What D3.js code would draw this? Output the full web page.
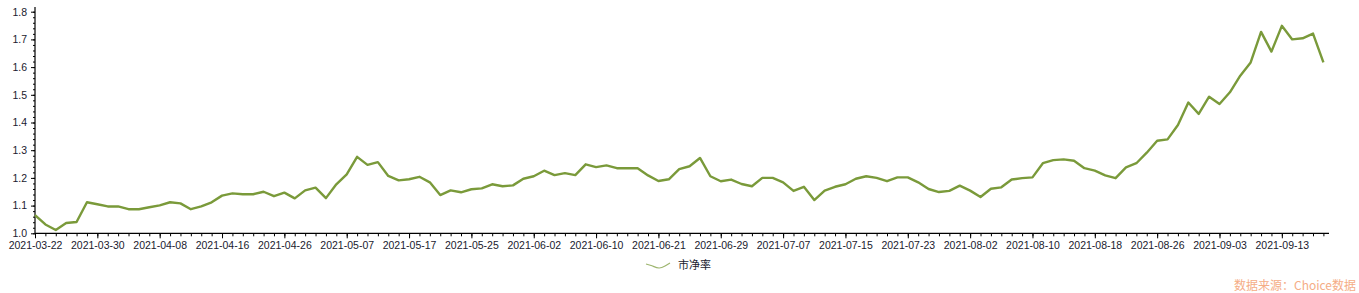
<!DOCTYPE html>
<html>
<head>
<meta charset="utf-8">
<script src="https://cdn.jsdelivr.net/npm/d3@7"></script>
<style>
  html, body { margin: 0; padding: 0; background: #fff; }
  svg { display: block; font-family: Arial, "Liberation Sans", sans-serif; }
</style>
</head>
<body>
<svg id="chart" width="1359" height="293"></svg>
<script>
// ---- data ----
const dates = [
  "2021-03-22","2021-03-23","2021-03-24","2021-03-25","2021-03-26","2021-03-29","2021-03-30","2021-03-31",
  "2021-04-01","2021-04-02","2021-04-06","2021-04-07","2021-04-08","2021-04-09","2021-04-12","2021-04-13",
  "2021-04-14","2021-04-15","2021-04-16","2021-04-19","2021-04-20","2021-04-21","2021-04-22","2021-04-23",
  "2021-04-26","2021-04-27","2021-04-28","2021-04-29","2021-04-30","2021-05-06","2021-05-07","2021-05-10",
  "2021-05-11","2021-05-12","2021-05-13","2021-05-14","2021-05-17","2021-05-18","2021-05-19","2021-05-20",
  "2021-05-21","2021-05-24","2021-05-25","2021-05-26","2021-05-27","2021-05-28","2021-05-31","2021-06-01",
  "2021-06-02","2021-06-03","2021-06-04","2021-06-07","2021-06-08","2021-06-09","2021-06-10","2021-06-11",
  "2021-06-15","2021-06-16","2021-06-17","2021-06-18","2021-06-21","2021-06-22","2021-06-23","2021-06-24",
  "2021-06-25","2021-06-28","2021-06-29","2021-06-30","2021-07-01","2021-07-02","2021-07-05","2021-07-06",
  "2021-07-07","2021-07-08","2021-07-09","2021-07-12","2021-07-13","2021-07-14","2021-07-15","2021-07-16",
  "2021-07-19","2021-07-20","2021-07-21","2021-07-22","2021-07-23","2021-07-26","2021-07-27","2021-07-28",
  "2021-07-29","2021-07-30","2021-08-02","2021-08-03","2021-08-04","2021-08-05","2021-08-06","2021-08-09",
  "2021-08-10","2021-08-11","2021-08-12","2021-08-13","2021-08-16","2021-08-17","2021-08-18","2021-08-19",
  "2021-08-20","2021-08-23","2021-08-24","2021-08-25","2021-08-26","2021-08-27","2021-08-30","2021-08-31",
  "2021-09-01","2021-09-02","2021-09-03","2021-09-06","2021-09-07","2021-09-08","2021-09-09","2021-09-10",
  "2021-09-13","2021-09-14","2021-09-15","2021-09-16","2021-09-17"
];

const pbValues = [
  1.066,1.032,1.012,1.037,1.041,1.112,1.105,1.097,
  1.097,1.087,1.087,1.094,1.101,1.112,1.108,1.087,
  1.097,1.112,1.136,1.144,1.141,1.141,1.150,1.134,
  1.147,1.126,1.155,1.165,1.127,1.177,1.213,1.276,
  1.247,1.257,1.207,1.191,1.195,1.204,1.184,1.138,
  1.155,1.148,1.159,1.162,1.177,1.170,1.173,1.197,
  1.206,1.226,1.210,1.217,1.210,1.249,1.239,1.245,
  1.235,1.235,1.235,1.209,1.189,1.195,1.232,1.242,
  1.272,1.206,1.188,1.194,1.178,1.170,1.200,1.200,
  1.184,1.153,1.168,1.120,1.154,1.168,1.177,1.197,
  1.206,1.200,1.188,1.202,1.202,1.184,1.160,1.149,
  1.153,1.172,1.154,1.131,1.161,1.166,1.194,1.199,
  1.202,1.253,1.264,1.267,1.262,1.235,1.226,1.209,
  1.199,1.238,1.253,1.291,1.334,1.339,1.391,1.472,
  1.431,1.493,1.467,1.509,1.569,1.617,1.727,1.656,
  1.749,1.700,1.704,1.721,1.617
];

const yTicks = [1.0, 1.1, 1.2, 1.3, 1.4, 1.5, 1.6, 1.7, 1.8];
const xLabelDates = [
  "2021-03-22","2021-03-30","2021-04-08","2021-04-16","2021-04-26","2021-05-07","2021-05-17",
  "2021-05-25","2021-06-02","2021-06-10","2021-06-21","2021-06-29","2021-07-07","2021-07-15",
  "2021-07-23","2021-08-02","2021-08-10","2021-08-18","2021-08-26","2021-09-03","2021-09-13"
];
const seriesName = "市净率";
const sourceText = "数据来源：Choice数据";

// ---- layout ----
const svg = d3.select("#chart");
const x0 = 35, x1 = 1323.4, axisEnd = 1329;
const yBottom = 233.3, yTop = 11.7;
const lineColor = "#7a9a3a";
const axisColor = "#000";
const textColor = "#1a1a2e";

const x = d3.scalePoint().domain(dates).range([x0, x1]);
const y = d3.scaleLinear().domain([1.0, 1.8]).range([yBottom, yTop]);

// minor y ticks
const minorY = d3.range(0, 41).map(i => 1.0 + i * 0.02);
svg.append("g")
  .attr("transform", `translate(${x0},0)`)
  .call(d3.axisLeft(y).tickValues(minorY).tickSize(2).tickFormat(""))
  .call(g => g.select(".domain").remove())
  .call(g => g.selectAll("line").attr("stroke", axisColor));

// major y ticks
svg.append("g")
  .attr("transform", `translate(${x0},0)`)
  .call(d3.axisLeft(y).tickValues(yTicks).tickSize(4).tickPadding(4).tickFormat(d3.format(".1f")))
  .call(g => g.select(".domain").remove())
  .call(g => g.selectAll("line").attr("stroke", axisColor))
  .call(g => g.selectAll("text").attr("fill", textColor).style("font-size", "10.5px")
    .style("font-family", "Arial, 'Liberation Sans', sans-serif"));

// y domain line
svg.append("line")
  .attr("x1", x0).attr("x2", x0).attr("y1", 7).attr("y2", yBottom)
  .attr("stroke", axisColor).attr("stroke-width", 1.2);

// minor x ticks
svg.append("g")
  .attr("transform", `translate(0,${yBottom})`)
  .call(d3.axisBottom(x).tickValues(dates).tickSize(3).tickFormat(""))
  .call(g => g.select(".domain").remove())
  .call(g => g.selectAll("line").attr("stroke", axisColor));

// major x ticks with labels
svg.append("g")
  .attr("transform", `translate(0,${yBottom})`)
  .call(d3.axisBottom(x).tickValues(xLabelDates).tickSize(5).tickPadding(3))
  .call(g => g.select(".domain").remove())
  .call(g => g.selectAll("line").attr("stroke", axisColor))
  .call(g => g.selectAll("text").attr("fill", textColor).style("font-size", "10.5px")
    .style("font-family", "Arial, 'Liberation Sans', sans-serif"));

// x domain line
svg.append("line")
  .attr("x1", x0).attr("x2", axisEnd).attr("y1", yBottom).attr("y2", yBottom)
  .attr("stroke", axisColor).attr("stroke-width", 1.2);

// series line
const line = d3.line()
  .x((d, i) => x(dates[i]))
  .y(d => y(d));

svg.append("path")
  .datum(pbValues)
  .attr("d", line)
  .attr("fill", "none")
  .attr("stroke", lineColor)
  .attr("stroke-width", 2.4)
  .attr("stroke-linejoin", "round");

// legend
const lg = svg.append("g").attr("transform", "translate(646,265)");
const wavePts = [[0, -1], [6, 0.8], [13, 3], [19, 1], [24, -2]];
lg.append("path")
  .attr("d", d3.line().curve(d3.curveNatural)(wavePts))
  .attr("fill", "none")
  .attr("stroke", "#9db56e")
  .attr("stroke-width", 1.2);
lg.append("text")
  .attr("x", 32).attr("y", 4)
  .attr("fill", textColor)
  .style("font-size", "11px")
  .style("font-family", "'Noto Sans CJK SC', sans-serif")
  .text(seriesName);

// source watermark
svg.append("text")
  .attr("x", 1356).attr("y", 290)
  .attr("text-anchor", "end")
  .attr("fill", "#f5ad86")
  .style("font-size", "12px")
  .style("font-family", "'Noto Sans CJK SC', Arial, sans-serif")
  .text(sourceText);
</script>
</body>
</html>
